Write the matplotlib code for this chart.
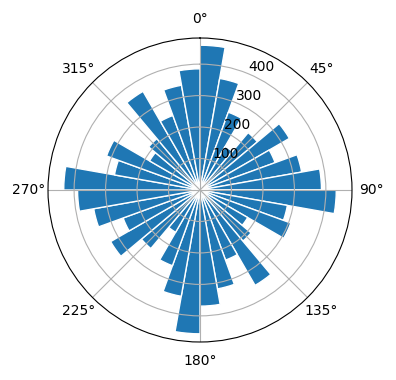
import matplotlib
matplotlib.use("Agg")
import matplotlib.pyplot as plt
import numpy as np

# bin start angles (degrees, clockwise from north) and counts per 10 degree bin
bin_starts = np.arange(0, 360, 10)
counts = [
    460, 360, 263, 160, 238, 328, 254, 328, 386,   # 0-80
    433, 282, 307, 175, 212, 350, 237, 319, 369,   # 90-170
    457, 343, 256, 155, 243, 328, 260, 343, 389,   # 180-260
    433, 276, 316, 185, 213, 362, 252, 338, 385,   # 270-350
]
bin_width = 10

fig = plt.figure(figsize=(3.96, 3.8), dpi=100)
ax = fig.add_axes([0.1212, 0.1, 0.7677, 0.8], projection="polar")
ax.set_theta_zero_location("N")
ax.set_theta_direction(-1)

ax.bar(np.radians(bin_starts), counts, width=np.radians(bin_width),
       align="edge", edgecolor="white")

fig.savefig("out.png", dpi=100)
